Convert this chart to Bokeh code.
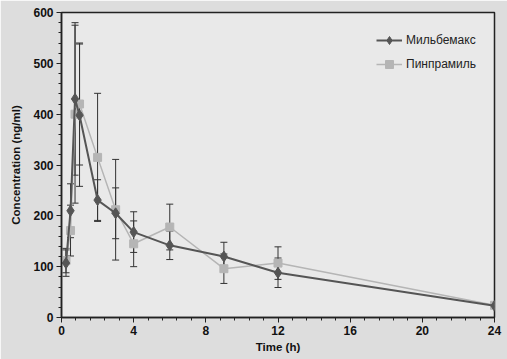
from bokeh.plotting import figure
from bokeh.models import Range1d, SingleIntervalTicker, ColumnDataSource, Whisker, TeeHead, Legend, LegendItem
from bokeh.embed import file_html
from bokeh.resources import INLINE

time_h = [0.25, 0.5, 0.75, 1, 2, 3, 4, 6, 9, 12, 24]
milbemax = [107, 210, 430, 398, 231, 205, 168, 142, 120, 88, 23]
milbemax_sd = [26, 53, 150, 140, 40, 50, 40, 28, 28, 29, 0]
pinpramil = [112, 171, 400, 420, 315, 212, 145, 178, 96, 107, 24]
pinpramil_sd = [24, 50, 175, 120, 126, 99, 45, 45, 29, 32, 0]
series_names = ["Мильбемакс", "Пинпрамиль"]

p = figure(width=507, height=359, output_backend="svg", toolbar_location=None,
           x_range=Range1d(0, 24), y_range=Range1d(0, 600),
           min_border_left=61, min_border_right=13, min_border_top=12, min_border_bottom=42)
p.background_fill_color = "#e9e9e9"
p.border_fill_color = "#dddddd"
p.outline_line_color = "#222222"
p.outline_line_width = 1.5
p.xgrid.visible = False
p.ygrid.visible = False

p.xaxis.ticker = SingleIntervalTicker(interval=4, num_minor_ticks=5)
p.yaxis.ticker = SingleIntervalTicker(interval=100, num_minor_ticks=5)
for ax in (p.xaxis[0], p.yaxis[0]):
    ax.axis_line_color = "#222222"
    ax.axis_line_width = 1.5
    ax.major_tick_line_color = "#222222"
    ax.minor_tick_line_color = "#222222"
    ax.major_tick_in = 0
    ax.major_tick_out = 5
    ax.minor_tick_in = 0
    ax.minor_tick_out = 3
    ax.major_label_text_font = "Liberation Sans"
    ax.major_label_text_font_style = "bold"
    ax.major_label_text_font_size = "12px"
    ax.major_label_text_color = "#111111"
    ax.axis_label_text_font = "Liberation Sans"
    ax.axis_label_text_font_style = "bold"
    ax.axis_label_text_font_size = "11.5px"
    ax.axis_label_text_color = "#111111"
p.xaxis.axis_label = "Time (h)"
p.yaxis.axis_label = "Concentration (ng/ml)"
p.xaxis.major_label_standoff = 3
p.yaxis.major_label_standoff = 3
p.xaxis.axis_label_standoff = 3
p.yaxis.axis_label_standoff = 8


def add_whiskers(vals, sds):
    xs = [t for t, s in zip(time_h, sds) if s > 0]
    up = [v + s for v, s in zip(vals, sds) if s > 0]
    lo = [v - s for v, s in zip(vals, sds) if s > 0]
    src = ColumnDataSource(dict(x=xs, upper=up, lower=lo))
    w = Whisker(source=src, base="x", upper="upper", lower="lower",
                line_color="#333333", line_width=1,
                upper_head=TeeHead(size=7, line_color="#333333", line_width=1),
                lower_head=TeeHead(size=7, line_color="#333333", line_width=1))
    p.add_layout(w)


add_whiskers(milbemax, milbemax_sd)
add_whiskers(pinpramil, pinpramil_sd)

c1 = "#555555"
c2 = "#b5b5b5"
l2 = p.line(time_h, pinpramil, line_color=c2, line_width=1.5)
m2 = p.scatter(time_h, pinpramil, marker="square", size=8, fill_color=c2, line_color=c2)
l1 = p.line(time_h, milbemax, line_color=c1, line_width=2)
m1 = p.scatter(time_h, milbemax, marker="diamond", size=11, fill_color=c1, line_color=c1)

legend = Legend(items=[LegendItem(label=series_names[0], renderers=[l1, m1]),
                       LegendItem(label=series_names[1], renderers=[l2, m2])],
                location=(315, 243), padding=0, margin=0, spacing=4,
                glyph_width=26, glyph_height=20, label_standoff=4,
                background_fill_alpha=0, border_line_alpha=0,
                label_text_font="Liberation Sans", label_text_font_size="12px",
                label_text_color="#222222")
p.add_layout(legend)

open("out.html", "w").write(file_html(p, INLINE))
